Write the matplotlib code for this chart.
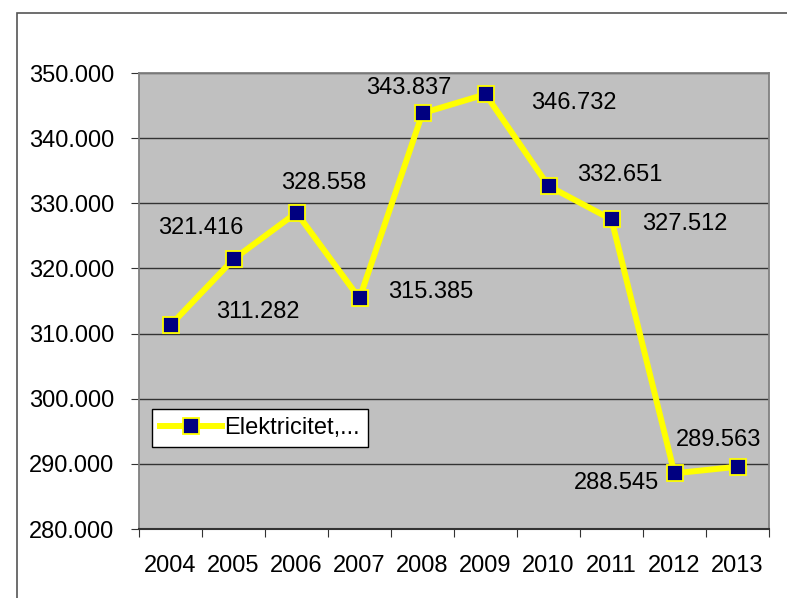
import matplotlib.pyplot as plt
from matplotlib.patches import Rectangle

years = ['2004', '2005', '2006', '2007', '2008', '2009', '2010', '2011', '2012', '2013']
values = [311.282, 321.416, 328.558, 315.385, 343.837, 346.732, 332.651, 327.512, 288.545, 289.563]
series_name = 'Elektricitet,...'
yticks = [280, 290, 300, 310, 320, 330, 340, 350]

# label offsets in points (as placed in the original)
label_offsets = [(62.6, 9.4), (-23.8, 22.4), (19.4, 21.7), (51.1, 4.4), (-10.1, 18.1),
                 (63.4, -6.4), (51.1, 8), (52.6, -3.5), (-41.8, -7.1), (-13.7, 19.5)]

plt.rcParams['font.family'] = ['Liberation Sans', 'DejaVu Sans']
FS = 17

fig = plt.figure(figsize=(7.87, 5.98), dpi=100)
fig.patches.append(Rectangle((17 / 787, -0.1), 1.2, 1 - 13 / 598 + 0.1, transform=fig.transFigure,
                             fill=False, edgecolor='#555555', linewidth=1.2))
ax = fig.add_axes([139 / 787, 1 - 529 / 598, 630 / 787, 456 / 598])
ax.set_facecolor('#C0C0C0')

x = list(range(len(years)))
ax.plot(x, values, color='#FFFF00', linewidth=4.3, marker='s', markersize=11,
        markerfacecolor='#000080', markeredgecolor='#FFFF00', markeredgewidth=1.3,
        label=series_name, zorder=3)

for i, v in enumerate(values):
    ax.annotate('%.3f' % v, (i, v), xytext=label_offsets[i], textcoords='offset points',
                ha='center', va='center', fontsize=FS)

ax.set_xlim(-0.5, len(years) - 0.5)
ax.set_ylim(280, 350)
ax.set_yticks(yticks)
ax.set_yticklabels(['%d.000' % t for t in yticks], fontsize=FS)
ax.yaxis.grid(True, color='#333333', linewidth=1)
ax.set_axisbelow(True)

ax.set_xticks([i - 0.5 for i in range(len(years) + 1)])
ax.set_xticklabels([])
ax.set_xticks(x, minor=True)
ax.set_xticklabels(years, minor=True, fontsize=FS)
ax.tick_params(axis='x', which='major', length=6, color='#333333')
ax.tick_params(axis='x', which='minor', length=0, pad=19)
ax.tick_params(axis='y', length=6, color='#333333', pad=12)

for side in ['left', 'right', 'top']:
    ax.spines[side].set_color('#808080')
    ax.spines[side].set_linewidth(1.3)
ax.spines['bottom'].set_color('#333333')
ax.spines['bottom'].set_linewidth(1.5)

leg = ax.legend(loc='lower left', bbox_to_anchor=(0.021, 0.179), fontsize=FS, frameon=True,
                fancybox=False, edgecolor='black', framealpha=1, borderaxespad=0,
                handlelength=2.6, handletextpad=0.1, borderpad=0.35)
leg.get_frame().set_linewidth(1)

fig.savefig('out.png', dpi=100)
